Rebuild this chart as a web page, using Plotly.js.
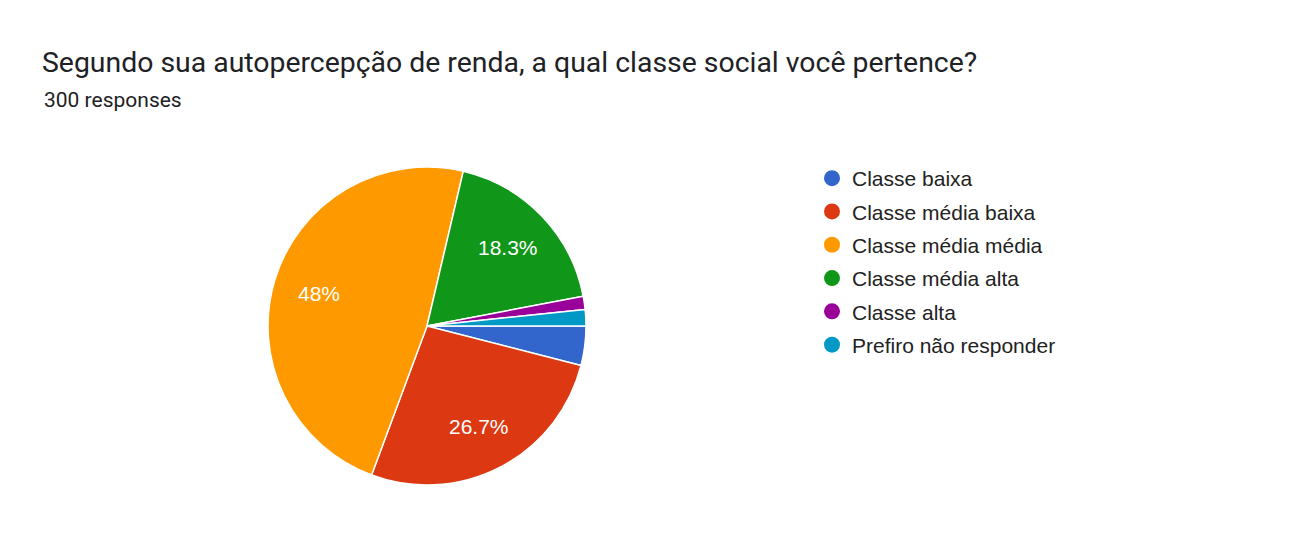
<!DOCTYPE html>
<html>
<head>
<meta charset="utf-8">
<script src="https://cdn.plot.ly/plotly-3.0.1.min.js"></script>
<style>
  body { margin: 0; background: #fff; }
  #chart { width: 1299px; height: 546px; }
</style>
</head>
<body>
<div id="chart"></div>
<script>
// answers to the question, 300 responses in total
var categories = ['Classe baixa', 'Classe média baixa', 'Classe média média',
                  'Classe média alta', 'Classe alta', 'Prefiro não responder'];
var counts = [12, 80, 144, 55, 4, 5];
var colors = ['#3366cc', '#dc3912', '#ff9900', '#109618', '#990099', '#0099c6'];

var W = 1299, H = 546;
// pie box in pixels
var cx = 427, cy = 326, R = 159;

var total = counts.reduce(function (a, b) { return a + b; }, 0);

var data = [{
    type: 'pie',
    labels: categories,
    values: counts,
    textinfo: 'none',
    sort: false,
    direction: 'clockwise',
    rotation: 90,
    marker: { colors: colors, line: { color: '#ffffff', width: 1.5 } },
    showlegend: false,
    domain: { x: [(cx - R) / W, (cx + R) / W], y: [1 - (cy + R) / H, 1 - (cy - R) / H] }
}];

// dummy scatter traces so the legend gets round markers
for (var i = 0; i < categories.length; i++) {
    data.push({
        type: 'scatter',
        mode: 'markers',
        x: [null],
        y: [null],
        name: categories[i],
        legendgroup: 'g' + i,
        marker: { color: colors[i], size: 20, symbol: 'circle' },
        hoverinfo: 'skip'
    });
}

var annotations = [{
    text: total + ' responses',
    xref: 'paper', yref: 'paper',
    x: 42 / W, y: 1 - 100 / H,
    xanchor: 'left', yanchor: 'middle',
    showarrow: false,
    font: { family: 'Roboto, sans-serif', size: 21, color: '#202124' }
}];

// percent labels like google does it: at the middle angle of each big slice
var acc = 0;
for (var i = 0; i < counts.length; i++) {
    var mid = (acc + counts[i] / 2) / total * 2 * Math.PI;
    acc += counts[i];
    var p = Math.round(counts[i] / total * 1000) / 10;
    if (p < 5) continue;
    var px = cx + 0.71 * R * Math.cos(mid);
    var py = cy + 0.71 * R * Math.sin(mid);
    annotations.push({
        text: p + '%',
        xref: 'paper', yref: 'paper',
        x: px / W, y: 1 - py / H,
        xanchor: 'center', yanchor: 'middle',
        showarrow: false,
        font: { family: 'Liberation Sans, Arial, sans-serif', size: 21, color: '#ffffff' }
    });
}

var layout = {
    width: W,
    height: H,
    margin: { l: 0, r: 0, t: 0, b: 0 },
    paper_bgcolor: '#ffffff',
    plot_bgcolor: '#ffffff',
    xaxis: { visible: false, domain: [0.99, 1] },
    yaxis: { visible: false, domain: [0.99, 1] },
    title: {
        text: 'Segundo sua autopercepção de renda, a qual classe social você pertence?',
        font: { family: 'Roboto, sans-serif', size: 28.4, color: '#202124' },
        x: 42 / W,
        xanchor: 'left',
        xref: 'container',
        y: 1 - 62 / H,
        yanchor: 'middle',
        yref: 'container'
    },
    annotations: annotations,
    legend: {
        x: 812 / W,
        y: 1 - 158 / H,
        xanchor: 'left',
        yanchor: 'top',
        tracegroupgap: 3,
        itemsizing: 'trace',
        font: { family: 'Liberation Sans, Arial, sans-serif', size: 21, color: '#222222' }
    }
};

Plotly.newPlot('chart', data, layout, { displayModeBar: false, staticPlot: true });
</script>
</body>
</html>
